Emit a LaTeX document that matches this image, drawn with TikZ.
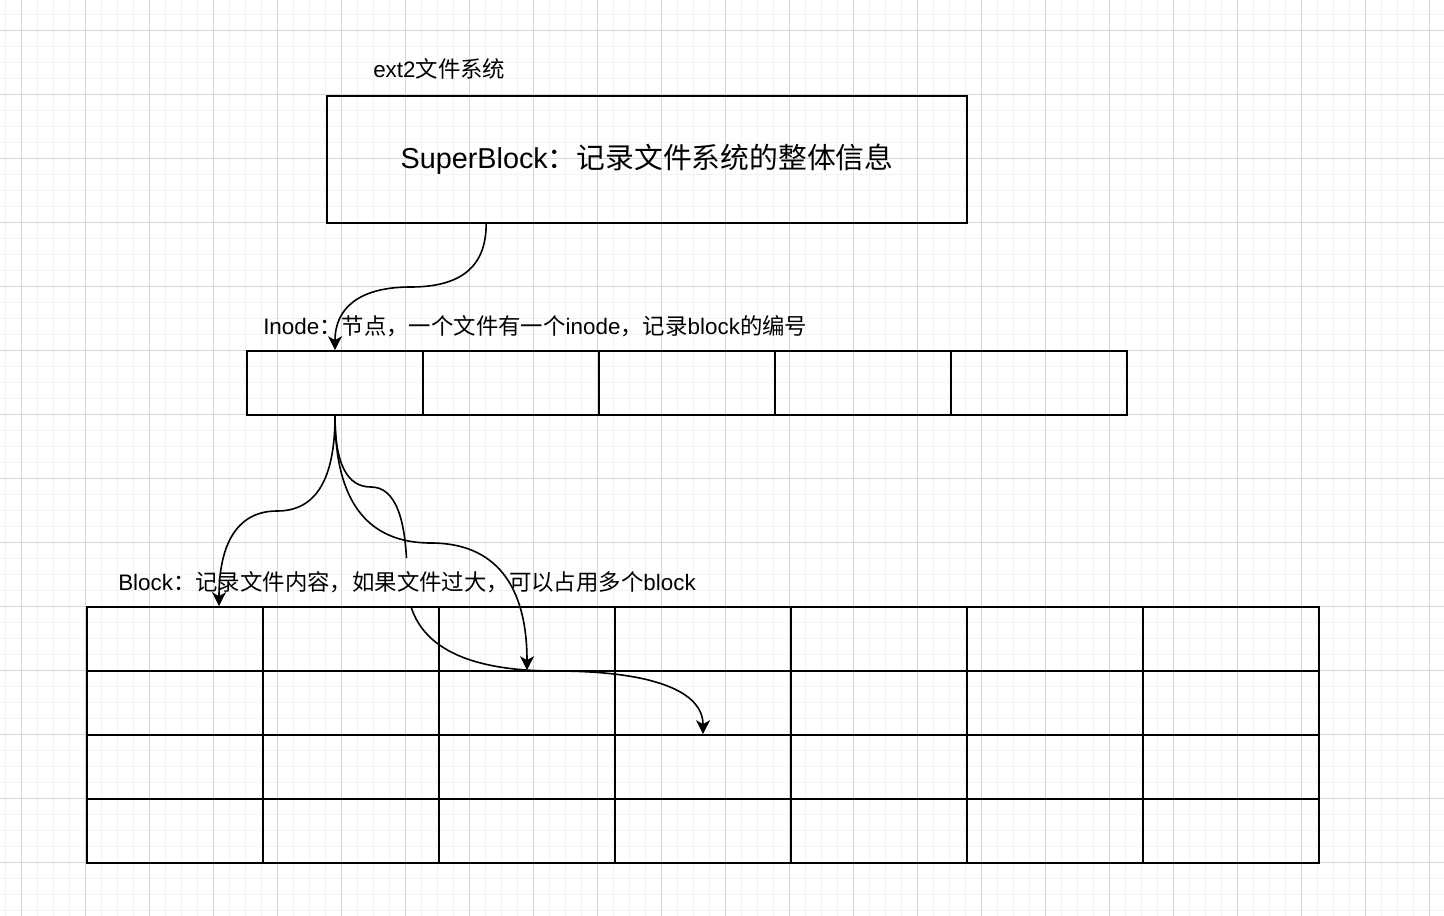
\documentclass[tikz,border=0pt]{standalone}
\usepackage{fontspec}
\setmainfont{Liberation Sans}
\newfontfamily\cjk{Noto Sans CJK SC}
\usepackage{xcolor}
\usetikzlibrary{arrows.meta,calc,positioning}
\definecolor{gridminor}{RGB}{243,243,243}
\definecolor{gridmajor}{RGB}{214,214,214}

\begin{document}
\begin{tikzpicture}[
    x=0.75pt, y=-0.75pt,
    minorline/.style={draw=gridminor, line width=1pt},
    majorline/.style={draw=gridmajor, line width=0.75pt},
    cell/.style={rectangle, draw=black, line width=1.25pt, inner sep=0pt, minimum width=132pt, minimum height=48pt},
    bigbox/.style={rectangle, draw=black, line width=1.25pt, inner sep=0pt, minimum width=480pt, minimum height=95.25pt, font=\fontsize{21.6pt}{26pt}\selectfont},
    lbl/.style={inner sep=0pt, anchor=base west, font=\fontsize{16.8pt}{20pt}\selectfont},
    arrow/.style={-{Stealth[length=10.5pt, width=10.5pt, inset=3pt]}, line width=1.2pt}
]
    \useasboundingbox (0,0) rectangle (1444,916);
    \fill[white] (0,0) rectangle (1444,916);

    % background grid
    \foreach \k in {0,...,89} \draw[minorline] ({5.33+16*\k},0) -- ++(0,916);
    \foreach \k in {0,...,56} \draw[minorline] (0,{14.67+16*\k}) -- ++(1444,0);
    \foreach \k in {0,...,22} \draw[majorline] ({21.33+64*\k},0) -- ++(0,916);
    \foreach \k in {0,...,13} \draw[majorline] (0,{30.67+64*\k}) -- ++(1444,0);

    % superblock
    \node[lbl] (fslbl) at (373,78) {ext2{\cjk 文件系统}};
    \node[bigbox] (sb) at (647,159.5) {SuperBlock{\cjk ：记录文件系统的整体信息}};

    % inode row
    \node[lbl] (inodelbl) at (263,334.5) {Inode{\cjk ：节点，一个文件有一个}inode{\cjk ，记录}block{\cjk 的编号}};
    \foreach \c in {1,...,5}
        \node[cell] (i\c) at ({159+176*\c},383) {};

    % block table
    \node[lbl] (blocklbl) at (118,590) {Block{\cjk ：记录文件内容，如果文件过大，可以占用多个}block};
    \foreach \r in {1,...,4}
        \foreach \c in {1,...,7}
            \node[cell] (b-\r-\c) at ({-1+176*\c},{575+64*\r}) {};

    \coordinate (sbout) at ([xshift=120pt]sb.south west);
    \coordinate (bin) at ([xshift=33pt]b-1-1.north);

    \draw[arrow] (sbout) .. controls +(0,42.67) and +(50.67,0) .. ($(sbout)!0.5!(i1.north)$)
        .. controls +(-50.67,0) and +(0,-42.67) .. (i1.north);
    \draw[arrow] (i1.south) .. controls +(0,64) and +(38.67,0) .. ($(i1.south)!0.5!(bin)$)
        .. controls +(-38.67,0) and +(0,-64) .. (bin);
    \draw[arrow] (i1.south) .. controls +(0,85.33) and +(-64,0) .. ($(i1.south)!0.5!(b-2-3.north)$)
        .. controls +(64,0) and +(0,-85.33) .. (b-2-3.north);
    \begin{scope}
        \clip (0,0) rectangle (1444,558) (0,607) rectangle (1444,916);
        \draw[arrow] (i1.south) .. controls +(0,48) and +(-24,0) .. (371,487)
            .. controls +(24,0) and +(0,-61.33) .. (407,579)
            .. controls +(0,61.33) and +(-98.67,0) .. (555,671)
            .. controls +(98.67,0) and +(0,-42.67) .. (b-3-4.north);
    \end{scope}
\end{tikzpicture}
\end{document}
